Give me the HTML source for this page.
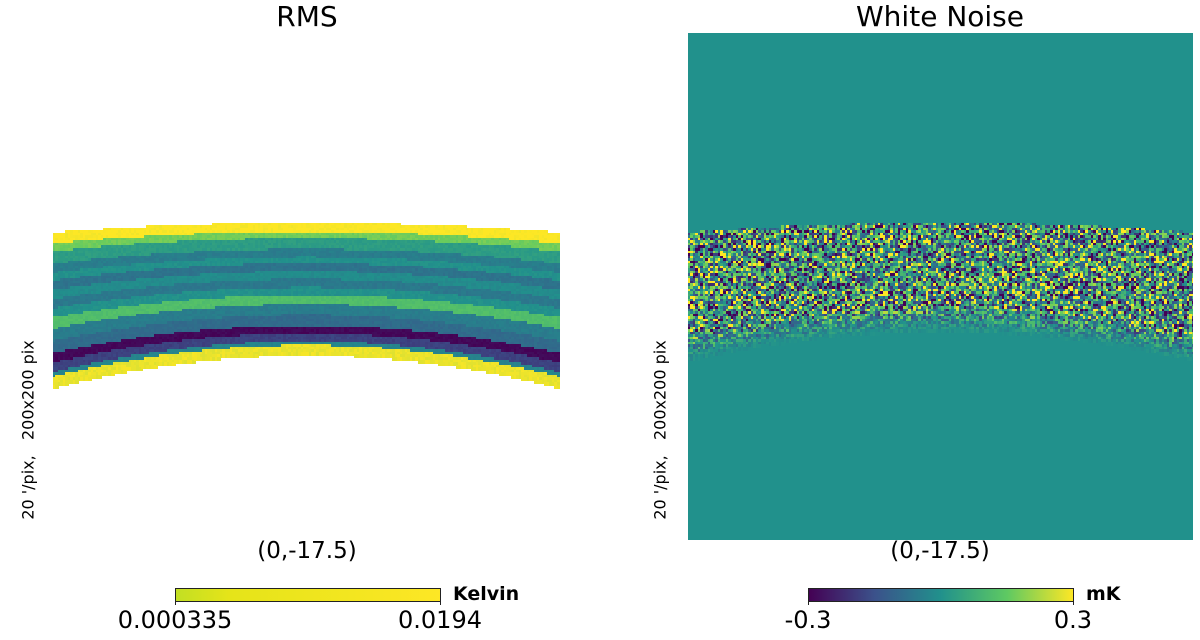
<!DOCTYPE html>
<html><head><meta charset="utf-8">
<style>
body{margin:0;width:1200px;height:640px;background:#fff;overflow:hidden;position:relative;font-family:"DejaVu Sans","Liberation Sans",sans-serif;}
.t{position:absolute;color:#000;white-space:nowrap;}
canvas{position:absolute;image-rendering:pixelated;}
</style></head><body>
<div class="t" style="left:207px;width:200px;text-align:center;top:0px;font-size:28px;">RMS</div>
<div class="t" style="left:790px;width:300px;text-align:center;top:0px;font-size:28px;">White Noise</div>
<canvas id="rms" width="507" height="507" style="left:53px;top:33px;width:507px;height:507px"></canvas>
<canvas id="wn" width="505" height="507" style="left:688px;top:33px;width:505px;height:507px"></canvas>
<div class="t" style="left:28px;top:430px;font-size:16px;transform:translate(-50%,-50%) rotate(-90deg);">20 '/pix,&nbsp;&nbsp;&nbsp;200x200 pix</div>
<div class="t" style="left:660px;top:430px;font-size:16px;transform:translate(-50%,-50%) rotate(-90deg);">20 '/pix,&nbsp;&nbsp;&nbsp;200x200 pix</div>
<div class="t" style="left:207px;width:200px;text-align:center;top:538px;font-size:23px;">(0,-17.5)</div>
<div class="t" style="left:840px;width:200px;text-align:center;top:538px;font-size:23px;">(0,-17.5)</div>
<div style="position:absolute;left:175px;top:588px;width:264px;height:12px;border:1px solid #222;background:linear-gradient(90deg,#c2df23,#e5e419 20%,#fde725)"></div>
<div style="position:absolute;left:175px;top:600px;width:1px;height:5px;background:#222"></div>
<div style="position:absolute;left:440px;top:600px;width:1px;height:5px;background:#222"></div>
<div class="t" style="left:453px;top:583px;font-size:19px;font-weight:bold;">Kelvin</div>
<div class="t" style="left:75px;width:200px;text-align:center;top:606px;font-size:24px;">0.000335</div>
<div class="t" style="left:340px;width:200px;text-align:center;top:606px;font-size:24px;">0.0194</div>
<div style="position:absolute;left:808px;top:588px;width:264px;height:12px;border:1px solid #222;background:linear-gradient(90deg,#440154,#3b528b 25%,#21918c 50%,#5ec962 75%,#fde725)"></div>
<div style="position:absolute;left:808px;top:600px;width:1px;height:5px;background:#222"></div>
<div style="position:absolute;left:1073px;top:600px;width:1px;height:5px;background:#222"></div>
<div class="t" style="left:1086px;top:583px;font-size:19px;font-weight:bold;">mK</div>
<div class="t" style="left:708px;width:200px;text-align:center;top:606px;font-size:24px;">-0.3</div>
<div class="t" style="left:973px;width:200px;text-align:center;top:606px;font-size:24px;">0.3</div>
<script>
// RMS radial profile: stop fractions across band and viridis values
const profileStops=[0,0.07,0.12,0.2,0.26,0.31,0.37,0.43,0.49,0.55,0.62,0.70,0.78,0.84,0.9,0.93];
const profileValues=[1.0,0.78,0.55,0.42,0.5,0.38,0.48,0.4,0.5,0.7,0.42,0.35,0.02,0.2,0.45,0.97];
const V=[[68,1,84],[59,82,139],[33,145,140],[94,201,98],[253,231,37]];
function vir(v){v=Math.max(0,Math.min(1,v))*4;const i=Math.min(3,Math.floor(v)),f=v-i;return V[i].map((c,k)=>Math.round(c+(V[i+1][k]-c)*f));}
function hash(a,b){let h=(a*374761393+b*668265263)|0;h=(h^(h>>>13))*1274126177|0;return ((h^(h>>>16))>>>0)/4294967296;}
const P=2.535;
(function(){const c=document.getElementById('rms').getContext('2d');
for(let i=0;i<200;i++){const u=(i+0.5)/100-1;const top=223+10*u*u-33,bot=355+33*u*u-33;
for(let j=0;j<200;j++){const y=(j+0.5)*P;if(y<top||y>bot)continue;const t=(y-top)/(bot-top);
let k=0;for(let s=0;s<profileStops.length;s++)if(t>=profileStops[s])k=s;
const col=vir(profileValues[k]+(hash(i,j)-0.5)*0.04);c.fillStyle=`rgb(${col})`;c.fillRect(Math.floor(i*P),Math.floor(j*P),Math.ceil(P)+1,Math.ceil(P)+1);}}})();
(function(){const c=document.getElementById('wn').getContext('2d');c.fillStyle='#21918c';c.fillRect(0,0,505,507);
for(let i=0;i<200;i++){const u=(i+0.5)/100-1;const top=223+10*u*u-33,bot=318+30*u*u-33;
for(let j=0;j<200;j++){const y=(j+0.5)*P;if(y<top||y>bot+14)continue;let a=1;if(y>bot-12)a=Math.max(0,(bot+14-y)/26);
let v=hash(i,j);v=v<0.12?0:v>0.88?1:v;v=0.5+(v-0.5)*a;const col=vir(v);c.fillStyle=`rgb(${col})`;c.fillRect(Math.floor(i*P),Math.floor(j*P),Math.ceil(P)+1,Math.ceil(P)+1);}}})();
</script>
</body></html>
